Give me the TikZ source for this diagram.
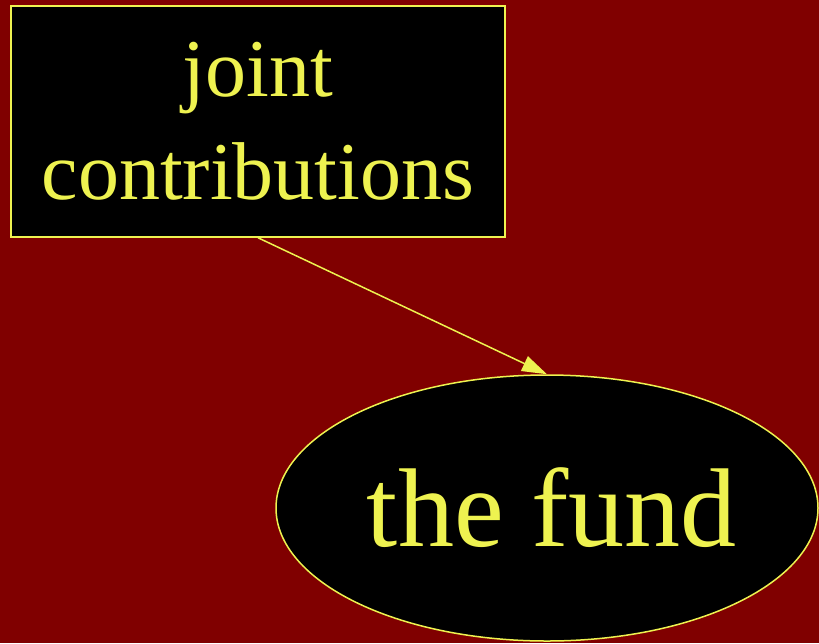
\documentclass[tikz,border=0pt]{standalone}
\usepackage{fontspec}
\setmainfont{Liberation Serif}
\usepackage{tikz}
\usetikzlibrary{arrows.meta, shapes.geometric}

\definecolor{bgred}{RGB}{128,0,0}
\definecolor{ink}{RGB}{238,242,80}

\begin{document}
\begin{tikzpicture}[
  x=1pt, y=-1pt,
  box/.style={draw=ink, fill=black, text=ink, line width=1.5pt, inner sep=0pt, align=center,
    minimum width=494pt, minimum height=231pt, font=\fontsize{82}{103}\selectfont},
  oval/.style={ellipse, draw=ink, fill=black, text=ink, line width=1.5pt, inner sep=0pt,
    minimum width=542pt, minimum height=266pt, font=\fontsize{112}{130}\selectfont},
  arrow/.style={-{Triangle[length=25pt, width=16pt]}, draw=ink, fill=ink, line width=1.5pt}
]
\fill[bgred] (0,0) rectangle (819,643);
\useasboundingbox (0,0) rectangle (819,643);
\node[box] (joint) at (258,121.5) {joint\\contributions};
\node[oval] (fund) at (547,508) {\hspace*{10pt}the fund};
\draw[arrow] (joint.south) -- (fund.north);
\end{tikzpicture}
\end{document}
